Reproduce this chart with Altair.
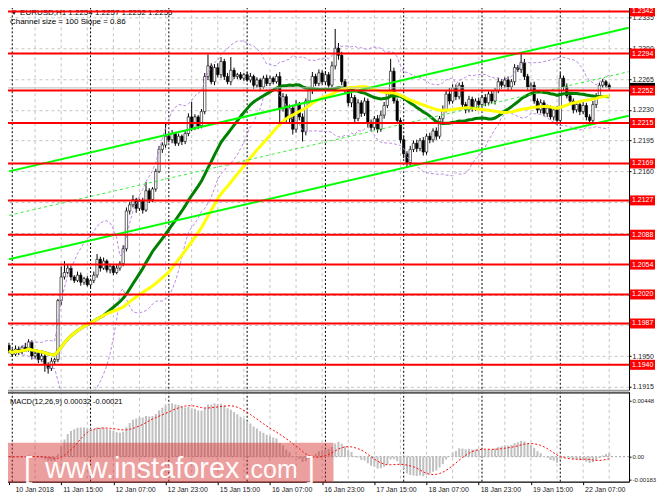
import json
import altair as alt
import numpy as np
import pandas as pd

# ---------------- data ----------------
header_text = ["\u25bc EURUSD,H1  1.2254 1.2257 1.2252 1.2255"]
channel_text = ["Channel size = 100 Slope = 0.86"]
macd_text = ["MACD(12,26,9) 0.00032 -0.00021"]

first_open_pips = 11962
close_pips = [
    11956, 11952, 11958, 11955, 11960, 11958, 11966, 11950, 11953, 11946,
    11950, 11940, 11936, 11944, 11946,
    12013, 12040, 12045, 12050, 12040, 12036, 12042, 12034, 12038, 12031,
    12036, 12042, 12060, 12050, 12058, 12048, 12052, 12045, 12050, 12055,
    12072, 12115, 12122, 12128, 12118, 12126, 12116, 12138, 12128, 12140,
    12160, 12185, 12190, 12200, 12196, 12203, 12192, 12200, 12194, 12203,
    12222, 12210, 12222, 12212, 12228, 12268, 12280, 12262, 12278, 12270,
    12285, 12268, 12262, 12275, 12268, 12270, 12266, 12270, 12264, 12268,
    12258, 12264, 12256, 12266, 12260, 12266, 12262, 12268, 12232, 12245,
    12220, 12232, 12208, 12236, 12222, 12205, 12240, 12252, 12268, 12260,
    12272, 12262, 12270, 12258, 12280, 12300, 12292, 12262, 12252, 12238,
    12244, 12220, 12238, 12226, 12240, 12215, 12210, 12220, 12208, 12224,
    12235, 12248, 12274, 12240, 12218, 12196, 12180, 12170, 12185, 12192,
    12186, 12195, 12182, 12200, 12196, 12206, 12200, 12220, 12230, 12248,
    12240, 12255, 12245, 12258, 12236, 12230, 12242, 12232, 12240, 12236,
    12244, 12238, 12248, 12240, 12252, 12262, 12258, 12264, 12256, 12262,
    12278, 12276, 12284, 12268, 12256, 12258, 12240, 12230, 12238, 12226,
    12232, 12222, 12230, 12218, 12266, 12256, 12246, 12240, 12230, 12236,
    12228, 12235, 12222, 12218, 12236, 12246, 12258, 12262, 12258, 12255,
]
upper_wick_pips = [
    3, 2, 4, 3, 2, 5, 3, 2, 3, 2,
    3, 2, 3, 4, 2, 2, 12, 13, 4, 3,
    2, 4, 3, 2, 3, 2, 4, 6, 3, 4,
    2, 3, 2, 4, 3, 4, 4, 3, 5, 2,
    3, 4, 10, 3, 2, 3, 4, 3, 16, 3,
    4, 2, 3, 2, 3, 4, 17, 3, 2, 3,
    4, 13, 3, 4, 5, 5, 3, 4, 15, 3,
    2, 3, 2, 3, 4, 2, 3, 2, 3, 4,
    3, 2, 3, 5, 4, 3, 4, 3, 5, 3,
    4, 3, 4, 5, 3, 4, 3, 4, 3, 5,
    22, 6, 4, 3, 4, 5, 3, 4, 3, 4,
    3, 4, 3, 4, 5, 4, 3, 14, 4, 3,
    3, 4, 3, 4, 3, 4, 3, 4, 3, 4,
    3, 4, 3, 5, 4, 7, 4, 4, 3, 4,
    3, 4, 3, 3, 4, 3, 4, 3, 4, 3,
    4, 3, 3, 4, 3, 4, 3, 10, 4, 3,
    3, 4, 3, 4, 3, 4, 3, 3, 4, 6,
    3, 4, 3, 3, 4, 3, 4, 3, 3, 4,
    3, 3, 3, 2, 2,
]
lower_wick_pips = [
    3, 3, 2, 4, 3, 2, 3, 4, 3, 4,
    3, 8, 6, 3, 4, 3, 5, 3, 2, 4,
    3, 2, 4, 3, 2, 4, 3, 3, 4, 2,
    3, 4, 3, 2, 3, 3, 3, 4, 3, 5,
    3, 4, 2, 4, 3, 3, 2, 4, 3, 3,
    4, 3, 3, 4, 3, 3, 4, 3, 4, 3,
    3, 4, 3, 4, 3, 4, 4, 3, 4, 3,
    3, 2, 3, 2, 3, 4, 3, 3, 2, 3,
    3, 3, 2, 16, 4, 5, 4, 6, 4, 4,
    11, 4, 3, 4, 3, 3, 4, 3, 4, 3,
    4, 5, 4, 3, 4, 5, 4, 3, 4, 3,
    5, 4, 3, 4, 3, 4, 3, 4, 3, 4,
    4, 5, 5, 4, 3, 4, 3, 4, 3, 4,
    3, 4, 3, 4, 3, 4, 3, 4, 3, 4,
    4, 3, 4, 3, 4, 3, 4, 3, 3, 4,
    3, 4, 3, 4, 3, 4, 3, 4, 4, 3,
    4, 3, 4, 4, 3, 4, 3, 4, 5, 3,
    4, 3, 4, 4, 3, 4, 3, 4, 5, 3,
    4, 3, 3, 3, 2,
]

level_prices = [1.2342, 1.2294, 1.2252, 1.2215, 1.2169, 1.2127,
                1.2088, 1.2054, 1.2020, 1.1987, 1.1940]
bid_price = [1.2255]
price_ticks = [1.1915, 1.1950, 1.1985, 1.2020, 1.2055, 1.2090, 1.2125,
               1.2160, 1.2195, 1.2230, 1.2265, 1.2300, 1.2335]
macd_ticks = [0.00448, 0.0, -0.00183]
time_label_pos = [0, 16, 32, 48, 64, 80, 96, 112, 128, 144, 160, 176]
time_labels = ["10 Jan 2018", "11 Jan 15:00", "12 Jan 07:00", "12 Jan 23:00",
               "15 Jan 15:00", "16 Jan 07:00", "16 Jan 23:00", "17 Jan 15:00",
               "18 Jan 07:00", "18 Jan 23:00", "19 Jan 15:00", "22 Jan 07:00"]
grid_pos = [8, 16, 24, 32, 40, 48, 56, 64, 72, 80, 88, 96, 104, 112, 120,
            128, 136, 144, 152, 160, 168, 176, 184]
separator_pos = [1, 25, 49, 73, 97, 121, 145, 169]
channel_t = [0, 190]
channel_upper = [1.2160, 1.23234]
channel_middle = [1.2110, 1.22734]
channel_lower = [1.2060, 1.22234]
watermark_parts = ["[", "www.instaforex", ".com", "]"]

# ---------------- tables built from the arrays ----------------
c = np.array(close_pips, dtype=float)
o = np.concatenate([[first_open_pips], c[:-1]])
h = np.maximum(o, c) + np.array(upper_wick_pips)
l = np.minimum(o, c) - np.array(lower_wick_pips)
t = np.arange(len(c))
candles = pd.DataFrame({"t": t, "o": o / 1e4, "h": h / 1e4, "l": l / 1e4, "c": c / 1e4})
close = candles["c"]

ind = pd.DataFrame({
    "t": t,
    "ma30": close.rolling(30, min_periods=1).mean(),
    "ma50": close.rolling(50, min_periods=1).mean(),
})
mid = close.rolling(20, min_periods=5).mean()
sd = close.rolling(20, min_periods=5).std(ddof=0)
bb = pd.concat([
    pd.DataFrame({"t": t, "band": "up", "v": mid + 2 * sd}),
    pd.DataFrame({"t": t, "band": "lo", "v": mid - 2 * sd}),
]).dropna()

ema12 = close.ewm(span=12, adjust=False).mean()
ema26 = close.ewm(span=26, adjust=False).mean()
macd_v = ema12 - ema26
signal_v = macd_v.rolling(9, min_periods=1).mean()
macd_df = pd.DataFrame({"t": t, "m": macd_v, "s": signal_v, "zero": 0.0})

chan = pd.DataFrame({"t": channel_t, "up": channel_upper,
                     "mid": channel_middle, "lo": channel_lower})
levels = pd.DataFrame({"p": level_prices})
bid = pd.DataFrame({"p": bid_price})
grid_df = pd.DataFrame({"g": grid_pos})
sep_df = pd.DataFrame({"s": separator_pos})

# ---------------- styling ----------------
FONT = "Liberation Sans"
W, H_MAIN, H_MACD = 626, 387, 90
BOX = "M-1,-0.4L1,-0.4L1,0.4L-1,0.4Z"
BOX_X = 639.5
BOX_SIZE = 625
LABEL_X = 629

xs = alt.Scale(domain=[0, 188.55], nice=False, zero=False)
ys = alt.Scale(domain=[1.19116, 1.23511], nice=False, zero=False)
ms = alt.Scale(domain=[-0.0020, 0.0052], nice=False, zero=False)

y_axis = alt.Axis(orient="right", values=price_ticks, format=".4f", title=None,
                  grid=True, gridColor="#c4c4c4", gridDash=[3, 3], gridWidth=1,
                  tickSize=2, tickColor="black", domainColor="black",
                  labelFont=FONT, labelFontSize=7, labelColor="#1a1a1a",
                  labelPadding=1, labelOverlap=False, labelBaseline="middle")
m_axis = alt.Axis(orient="right", values=macd_ticks, title=None, grid=False,
                  labelExpr="datum.value == 0 ? '0.00' : replace(format(datum.value, '.5f'), '\u2212', '-')",
                  tickSize=2, tickColor="black", domainColor="black",
                  labelFont=FONT, labelFontSize=6, labelColor="#1a1a1a",
                  labelPadding=1, labelOverlap=False, labelBaseline="middle")
t_axis = alt.Axis(values=time_label_pos, title=None, grid=False,
                  labelExpr=json.dumps(time_labels) + "[round(datum.value / 16)]",
                  labelAlign="left",
                  labelOffset={"condition": {"test": "datum.value == 0", "value": 6}, "value": 1.5},
                  labelFlush=False, labelOverlap=False, labelBound=False,
                  tickSize=3, tickColor="black", domainColor="black",
                  labelFont=FONT, labelFontSize=7, labelColor="#1a1a1a", labelPadding=1)


def XM(f):
    return alt.X(f, type="quantitative", scale=xs, axis=None)


def YM(f):
    return alt.Y(f, type="quantitative", scale=ys, axis=y_axis)


def XT(f):
    return alt.X(f, type="quantitative", scale=xs, axis=t_axis)


def YC(f):
    return alt.Y(f, type="quantitative", scale=ms, axis=m_axis)


# ---------------- main panel ----------------
vgrid = alt.Chart(grid_df).mark_rule(color="#c4c4c4", strokeDash=[3, 3], strokeWidth=1).encode(x=XM("g"))
seps = alt.Chart(sep_df).mark_rule(color="black", strokeDash=[2, 2], strokeWidth=1).encode(x=XM("s"))
wicks = alt.Chart(candles).mark_rule(color="black", strokeWidth=1, clip=True).encode(
    x=XM("t"), y=YM("l"), y2=alt.Y2("h"))
bodies = alt.Chart(candles).mark_bar(width=2.4, stroke="black", strokeWidth=0.6, clip=True).encode(
    x=XM("t"), y=YM("o"), y2=alt.Y2("c"),
    color=alt.condition("datum.c >= datum.o", alt.value("white"), alt.value("black")))
bb_layer = alt.Chart(bb).mark_line(color="#bb88e0", strokeDash=[3, 2], strokeWidth=1, clip=True).encode(
    x=XM("t"), y=YM("v"), detail="band:N")
ma_green = alt.Chart(ind).mark_line(color="#008000", strokeWidth=3, clip=True).encode(x=XM("t"), y=YM("ma30"))
ma_yellow = alt.Chart(ind).mark_line(color="#ffff00", strokeWidth=3, clip=True).encode(x=XM("t"), y=YM("ma50"))
ch_up = alt.Chart(chan).mark_line(color="#00ff00", strokeWidth=2, clip=True).encode(x=XM("t"), y=YM("up"))
ch_lo = alt.Chart(chan).mark_line(color="#00ff00", strokeWidth=2, clip=True).encode(x=XM("t"), y=YM("lo"))
ch_mid = alt.Chart(chan).mark_line(color="#33ee33", strokeWidth=1, strokeDash=[3, 3], clip=True).encode(
    x=XM("t"), y=YM("mid"))
bid_rule = alt.Chart(bid).mark_rule(color="#bdbdbd", strokeWidth=1).encode(y=YM("p"))
level_rules = alt.Chart(levels).mark_rule(color="#ff0000", strokeWidth=2).encode(y=YM("p"))
head1 = alt.Chart(pd.DataFrame({"s": header_text})).mark_text(
    align="left", baseline="middle", font=FONT, fontSize=8, color="black").encode(
    x=alt.value(6), y=alt.value(10), text="s:N")
head2 = alt.Chart(pd.DataFrame({"s": channel_text})).mark_text(
    align="left", baseline="middle", font=FONT, fontSize=8, color="black").encode(
    x=alt.value(6), y=alt.value(19), text="s:N")
bid_box = alt.Chart(bid).mark_point(shape=BOX, size=BOX_SIZE, filled=True, color="black",
                                    opacity=1, strokeWidth=0).encode(x=alt.value(BOX_X), y=YM("p"))
lvl_box = alt.Chart(levels).mark_point(shape=BOX, size=BOX_SIZE, filled=True, color="#ff0000",
                                       opacity=1, strokeWidth=0).encode(x=alt.value(BOX_X), y=YM("p"))
lvl_txt = alt.Chart(levels).mark_text(align="left", baseline="middle", font=FONT, fontSize=7,
                                      color="white").encode(
    x=alt.value(LABEL_X), y=YM("p"), text=alt.Text("p:Q", format=".4f"))

main = alt.layer(vgrid, seps, wicks, bodies, bb_layer, ma_green, ma_yellow,
                 ch_up, ch_mid, ch_lo, bid_rule, head1, head2, level_rules,
                 bid_box, lvl_box, lvl_txt).properties(width=W, height=H_MAIN)

# ---------------- MACD panel ----------------
vgrid2 = alt.Chart(grid_df).mark_rule(color="#c4c4c4", strokeDash=[3, 3], strokeWidth=1).encode(x=XT("g"))
seps2 = alt.Chart(sep_df).mark_rule(color="black", strokeDash=[2, 2], strokeWidth=1).encode(x=XT("s"))
zero_rule = alt.Chart(pd.DataFrame({"z": [0.0]})).mark_rule(
    color="#a0a0a0", strokeDash=[2, 2], strokeWidth=1).encode(y=YC("z"))
hist = alt.Chart(macd_df).mark_bar(width=2, color="#c0c0c0", clip=True).encode(
    x=XT("t"), y=YC("m"), y2=alt.Y2("zero"))
sig = alt.Chart(macd_df).mark_line(color="#ff0000", strokeDash=[2, 2], strokeWidth=1, clip=True).encode(
    x=XT("t"), y=YC("s"))
top_bar = alt.Chart(pd.DataFrame({"k": [0]})).mark_rule(color="#5a5a5a", strokeWidth=2).encode(
    x=alt.value(0), x2=alt.value(W), y=alt.value(1))
mtxt = alt.Chart(pd.DataFrame({"s": macd_text})).mark_text(
    align="left", baseline="middle", font=FONT, fontSize=7.5, color="black").encode(
    x=alt.value(6), y=alt.value(10), text="s:N")
wm_band = alt.Chart(pd.DataFrame({"k": [0]})).mark_rect(color="#d42a2a", opacity=0.45).encode(
    x=alt.value(0), x2=alt.value(330), y=alt.value(51), y2=alt.value(91))


def wm_text(i, xpos, size):
    return alt.Chart(pd.DataFrame({"s": [watermark_parts[i]]})).mark_text(
        align="left", baseline="alphabetic", font=FONT, fontSize=size,
        color="white", opacity=0.95).encode(x=alt.value(xpos), y=alt.value(86), text="s:N")


macd = alt.layer(vgrid2, seps2, zero_rule, hist, sig, top_bar, mtxt, wm_band,
                 wm_text(0, 20, 30), wm_text(1, 41, 29), wm_text(2, 240, 25),
                 wm_text(3, 303, 30)).properties(width=W, height=H_MACD)

chart = alt.vconcat(main, macd, spacing=2, bounds="flush").properties(
    padding={"left": -6, "top": -6, "right": 0, "bottom": 0},
    background="white",
).configure_view(stroke="#808080", strokeWidth=1)

chart.save("out.html", embed_options={"renderer": "svg", "actions": False})
